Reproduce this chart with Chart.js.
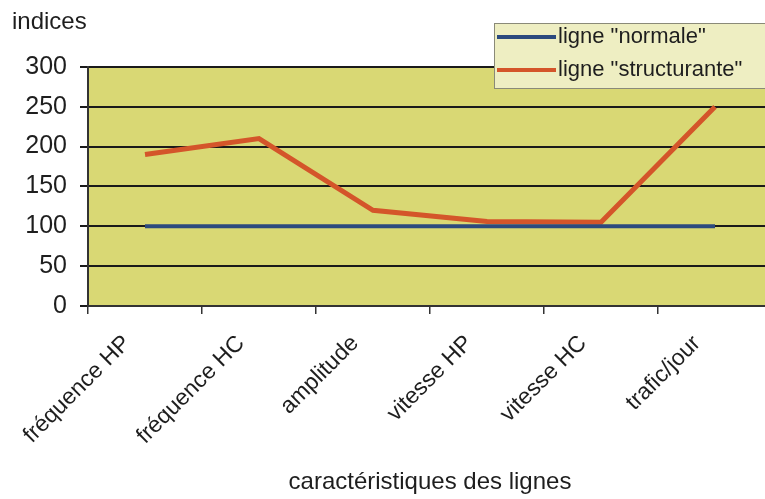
<!DOCTYPE html>
<html>
<head>
<meta charset="utf-8">
<script src="https://cdn.jsdelivr.net/npm/chart.js@4/dist/chart.umd.min.js"></script>
<style>
  html, body { margin: 0; padding: 0; background: #ffffff; overflow: hidden; }
  #wrap { position: relative; width: 775px; height: 499px; }
</style>
</head>
<body>
<div id="wrap"><canvas id="c"></canvas></div>
<script>
// ---- data ----
const categories = ['fréquence HP', 'fréquence HC', 'amplitude', 'vitesse HP', 'vitesse HC', 'trafic/jour'];
const ligneNormale = [100, 100, 100, 100, 100, 100];
const ligneStructurante = [190, 210, 120, 106, 105, 250];
const seriesNames = ['ligne "normale"', 'ligne "structurante"'];
const yTicks = [0, 50, 100, 150, 200, 250, 300];
const yTitle = 'indices';
const xTitle = 'caractéristiques des lignes';

const FONT = '"Liberation Sans", Arial, sans-serif';
const TEXT = '#1e1e1e';

const plotBg = {
  id: 'plotBg',
  beforeDraw(chart) {
    const a = chart.chartArea, ctx = chart.ctx;
    ctx.save();
    ctx.fillStyle = '#d9d874';
    ctx.fillRect(a.left, a.top, a.right - a.left, a.bottom - a.top);
    ctx.restore();
  }
};

const legendBox = {
  id: 'legendBox',
  afterDraw(chart) {
    const ctx = chart.ctx;
    ctx.save();
    ctx.fillStyle = '#eeeec2';
    ctx.fillRect(494, 23, 300, 65);
    ctx.strokeStyle = '#8a8a78';
    ctx.lineWidth = 1;
    ctx.strokeRect(494.5, 23.5, 300, 65);
    ctx.font = '22px ' + FONT;
    ctx.textBaseline = 'middle';
    ctx.textAlign = 'left';
    chart.data.datasets.forEach((ds, i) => {
      const y = 37 + i * 33;
      ctx.strokeStyle = ds.borderColor;
      ctx.lineWidth = 4;
      ctx.beginPath();
      ctx.moveTo(497, y);
      ctx.lineTo(556, y);
      ctx.stroke();
      ctx.fillStyle = TEXT;
      ctx.fillText(ds.label, 558, y);
    });
    ctx.restore();
  }
};

new Chart(document.getElementById('c'), {
  type: 'line',
  data: {
    labels: categories,
    datasets: [
      { label: seriesNames[0], data: ligneNormale, borderColor: '#2c4a7e', borderWidth: 4, pointRadius: 0, tension: 0, fill: false },
      { label: seriesNames[1], data: ligneStructurante, borderColor: '#d4552a', borderWidth: 5, pointRadius: 0, tension: 0, fill: false }
    ]
  },
  options: {
    responsive: true,
    maintainAspectRatio: false,
    animation: false,
    layout: { padding: { left: 12, right: 3, top: 0, bottom: 0 } },
    plugins: {
      legend: { display: false },
      tooltip: { enabled: false },
      title: {
        display: true, text: yTitle, align: 'start', color: TEXT,
        font: { family: FONT, size: 24, weight: 'normal' },
        padding: { top: 8, bottom: 30 }
      }
    },
    scales: {
      x: {
        type: 'category',
        offset: true,
        grid: { offset: true, drawOnChartArea: false, drawTicks: true, tickLength: 8, color: '#333', lineWidth: 1.5 },
        border: { display: true, color: '#333', width: 2 },
        ticks: {
          color: TEXT, font: { family: FONT, size: 23 },
          minRotation: 45, maxRotation: 45, autoSkip: false,
          padding: 16, labelOffset: -18
        },
        title: { display: true, text: xTitle, color: TEXT, font: { family: FONT, size: 24 }, padding: { top: 0, bottom: 2 } },
        afterFit(s) { s.height = 193; }
      },
      y: {
        min: 0, max: 300,
        afterBuildTicks(s) { s.ticks = yTicks.map(v => ({ value: v })); },
        grid: { color: '#1a1a1a', lineWidth: 2, drawTicks: true, tickLength: 8 },
        border: { display: true, color: '#333', width: 2 },
        ticks: { color: TEXT, font: { family: FONT, size: 25 }, padding: 13 },
        afterFit(s) { s.width = 76; }
      }
    }
  },
  plugins: [plotBg, legendBox]
});
</script>
</body>
</html>
